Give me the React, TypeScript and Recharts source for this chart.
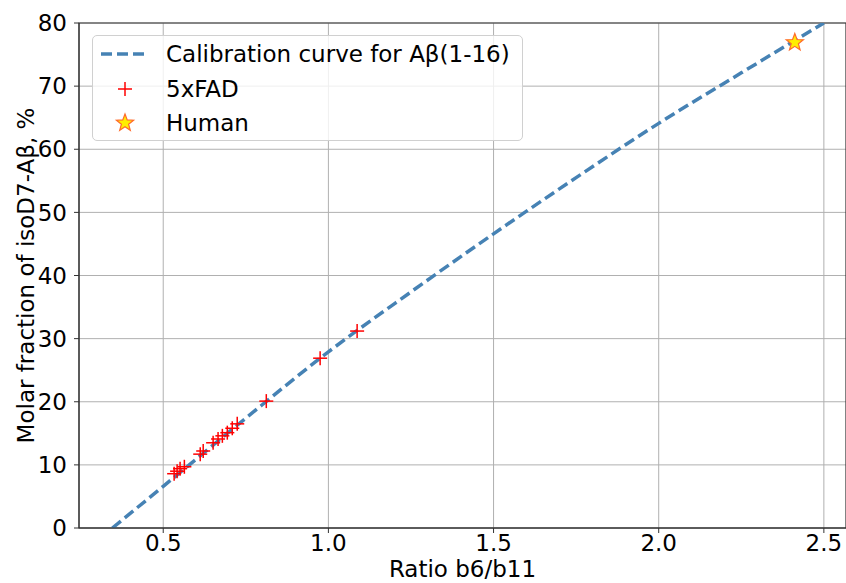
import React from 'react';
import { ComposedChart, XAxis, YAxis, CartesianGrid, Line, Scatter, Legend, ReferenceArea } from 'recharts';

// Calibration curve for Aβ(1-16)
const calRatio = [0.346, 0.5, 0.75, 1.0, 1.25, 1.5, 1.75, 2.0, 2.25, 2.5];
const calFraction = [0, 6.6, 17.4, 27.9, 37.4, 46.6, 55.5, 64.1, 72.1, 80];

// 5xFAD samples
const fadRatio = [0.533, 0.542, 0.551, 0.564, 0.612, 0.621, 0.651, 0.666, 0.679, 0.694, 0.709, 0.724, 0.812, 0.975, 1.087];
const fadFraction = [8.6, 9.0, 9.4, 9.7, 11.7, 12.2, 13.5, 14.1, 14.6, 15.1, 15.8, 16.5, 20.1, 26.9, 31.2];

// Human sample
const humanRatio = [2.412];
const humanFraction = [76.9];

const xTicks = [0.5, 1.0, 1.5, 2.0, 2.5];
const yTicks = [0, 10, 20, 30, 40, 50, 60, 70, 80];

const legendLabels = ['Calibration curve for Aβ(1-16)', '5xFAD', 'Human'];

const calData = calRatio.map((r, i) => ({ r, v: calFraction[i] }));
const fadData = fadRatio.map((r, i) => ({ r, v: fadFraction[i] }));
const humanData = humanRatio.map((r, i) => ({ r, v: humanFraction[i] }));

const FONT = 'DejaVu Sans, sans-serif';
const LINE_COLOR = '#4682b4';
const TICK_FS = 23;
const LEGEND_FS = 23;
const LABEL_FS = 23;

const starPath = (cx: number, cy: number, R: number) => {
  const r = R * 0.42;
  let d = '';
  for (let i = 0; i < 10; i++) {
    const ang = -Math.PI / 2 + (i * Math.PI) / 5;
    const rad = i % 2 === 0 ? R : r;
    const x = cx + rad * Math.cos(ang);
    const y = cy + rad * Math.sin(ang);
    d += (i === 0 ? 'M' : 'L') + x.toFixed(2) + ',' + y.toFixed(2);
  }
  return d + 'Z';
};

const PlusShape = (props: any) => {
  const { cx, cy } = props;
  const s = 7;
  return (
    <g>
      <line x1={cx - s} y1={cy} x2={cx + s} y2={cy} stroke="#ff0000" strokeWidth={1.5} />
      <line x1={cx} y1={cy - s} x2={cx} y2={cy + s} stroke="#ff0000" strokeWidth={1.5} />
    </g>
  );
};

const StarShape = (props: any) => {
  const { cx, cy } = props;
  return <path d={starPath(cx, cy, 9)} fill="#ffee00" stroke="#ff6a2a" strokeWidth={1.2} />;
};

const renderLegend = () => (
  <div
    style={{
      width: 431,
      height: 106,
      border: '1px solid #d0d0d0',
      borderRadius: 5,
      background: 'rgba(255,255,255,0.8)',
      boxSizing: 'border-box',
      fontFamily: FONT,
      color: '#000',
    }}
  >
    <svg width={429} height={104} style={{ display: 'block' }}>
      <line x1={8} y1={18} x2={56} y2={18} stroke={LINE_COLOR} strokeWidth={3.5} strokeDasharray="11,5" />
      <text x={73} y={26} fontFamily={FONT} fontSize={LEGEND_FS}>{legendLabels[0]}</text>
      <line x1={25} y1={53} x2={39} y2={53} stroke="#ff0000" strokeWidth={1.5} />
      <line x1={32} y1={46} x2={32} y2={60} stroke="#ff0000" strokeWidth={1.5} />
      <text x={73} y={61} fontFamily={FONT} fontSize={LEGEND_FS}>{legendLabels[1]}</text>
      <path d={starPath(32, 87, 9)} fill="#ffee00" stroke="#ff6a2a" strokeWidth={1.2} />
      <text x={73} y={95} fontFamily={FONT} fontSize={LEGEND_FS}>{legendLabels[2]}</text>
    </svg>
  </div>
);

export default function App() {
  return (
    <div style={{ position: 'absolute', left: 0, top: 0, width: 846, height: 583, background: '#fff' }}>
      <ComposedChart
        width={846}
        height={583}
        margin={{ top: 23, right: 0, bottom: 0, left: 0 }}
        style={{ fontFamily: FONT }}
      >
        <CartesianGrid stroke="#b0b0b0" strokeWidth={1} verticalValues={xTicks} horizontalValues={yTicks} />
        <XAxis
          type="number"
          dataKey="r"
          domain={[0.245, 2.567]}
          ticks={xTicks}
          tickFormatter={(v: number) => v.toFixed(1)}
          allowDataOverflow
          height={55}
          stroke="#333"
          tick={{ fill: '#000', fontSize: TICK_FS, fontFamily: FONT }}
          tickSize={5}
          tickMargin={2}
          label={{ value: 'Ratio b6/b11', position: 'insideBottom', offset: 6, fill: '#000', fontSize: LABEL_FS, fontFamily: FONT }}
        />
        <YAxis
          type="number"
          dataKey="v"
          domain={[0, 80]}
          ticks={yTicks}
          allowDataOverflow
          width={79}
          stroke="#333"
          tick={{ fill: '#000', fontSize: TICK_FS, fontFamily: FONT }}
          tickSize={5}
          tickMargin={7}
          label={{ value: 'Molar fraction of isoD7-Aβ, %', angle: -90, position: 'insideLeft', offset: 26, style: { textAnchor: 'middle' }, fill: '#000', fontSize: LABEL_FS, fontFamily: FONT }}
        />
        <ReferenceArea x1={0.245} x2={2.567} y1={0} y2={80} fill="none" stroke="#333" strokeWidth={1.2} ifOverflow="visible" />
        <Line
          data={calData}
          dataKey="v"
          type="monotone"
          stroke={LINE_COLOR}
          strokeWidth={3.5}
          strokeDasharray="11 5"
          dot={false}
          activeDot={false}
          isAnimationActive={false}
        />
        <Scatter data={fadData} dataKey="v" shape={PlusShape} isAnimationActive={false} />
        <Scatter data={humanData} dataKey="v" shape={StarShape} isAnimationActive={false} />
        <Legend
          content={renderLegend}
          layout="horizontal"
          verticalAlign="middle"
          align="center"
          wrapperStyle={{ position: 'absolute', left: 92, top: 35, width: 431, height: 106 }}
        />
      </ComposedChart>
    </div>
  );
}
